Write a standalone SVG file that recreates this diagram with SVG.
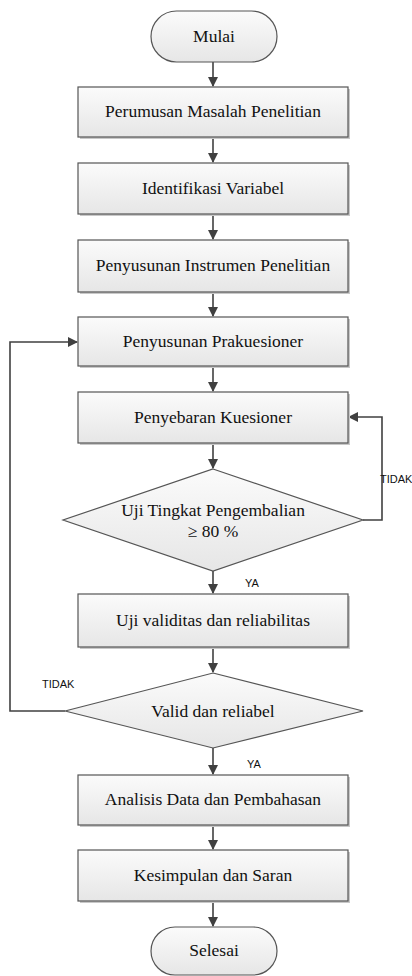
<svg xmlns="http://www.w3.org/2000/svg" width="412" height="976" viewBox="0 0 412 976">
<style>
.box{fill:url(#g);stroke:#555;stroke-width:1.2}
.sh{fill:#c8c8c8}
.t{font-family:'Liberation Serif','Times New Roman',Times,serif;font-size:17.5px;fill:#111;text-anchor:middle}
.l{font-family:'Liberation Sans',Arial,sans-serif;font-size:11px;fill:#111}
.c{fill:none;stroke:#404040;stroke-width:1.6}
</style>
<defs>
<linearGradient id="g" x1="0" y1="0" x2="0" y2="1">
<stop offset="0" stop-color="#fbfbfb"/>
<stop offset="1" stop-color="#e6e6e6"/>
</linearGradient>
<marker id="a" markerWidth="10" markerHeight="10" refX="9" refY="5" orient="auto" markerUnits="userSpaceOnUse">
<path d="M0,0 L10,5 L0,10 Z" fill="#404040"/>
</marker>
</defs>
<g id="connectors">
<path class="c" d="M213,62 V86" marker-end="url(#a)"/>
<path class="c" d="M213,137 V162" marker-end="url(#a)"/>
<path class="c" d="M213,214 V239" marker-end="url(#a)"/>
<path class="c" d="M213,292 V316" marker-end="url(#a)"/>
<path class="c" d="M213,366 V391" marker-end="url(#a)"/>
<path class="c" d="M213,443 V468" marker-end="url(#a)"/>
<path class="c" d="M213,571 V593" marker-end="url(#a)"/>
<path class="c" d="M363,520 H382 V417 H349" marker-end="url(#a)"/>
<path class="c" d="M213,647 V672" marker-end="url(#a)"/>
<path class="c" d="M65,711 H10 V342 H77" marker-end="url(#a)"/>
<path class="c" d="M213,748 V774" marker-end="url(#a)"/>
<path class="c" d="M213,825 V849" marker-end="url(#a)"/>
<path class="c" d="M213,901 V926" marker-end="url(#a)"/>
<text class="l" x="380" y="483">TIDAK</text>
<text class="l" x="245" y="587">YA</text>
<text class="l" x="42" y="688">TIDAK</text>
<text class="l" x="247" y="768">YA</text>
</g>
<g id="mulai">
<rect class="box" x="151" y="11" width="126" height="51" rx="25.5"/>
<text class="t" x="214" y="42">Mulai</text>
</g>
<g id="perumusan">
<rect class="sh" x="80" y="89" width="270" height="50"/>
<rect class="box" x="78" y="87" width="270" height="50"/>
<text class="t" x="213" y="117">Perumusan Masalah Penelitian</text>
</g>
<g id="identifikasi">
<rect class="sh" x="80" y="165" width="270" height="51"/>
<rect class="box" x="78" y="163" width="270" height="51"/>
<text class="t" x="213" y="194">Identifikasi Variabel</text>
</g>
<g id="instrumen">
<rect class="sh" x="80" y="242" width="270" height="52"/>
<rect class="box" x="78" y="240" width="270" height="52"/>
<text class="t" x="213" y="271">Penyusunan Instrumen Penelitian</text>
</g>
<g id="prakuesioner">
<rect class="sh" x="80" y="319" width="270" height="49"/>
<rect class="box" x="78" y="317" width="270" height="49"/>
<text class="t" x="213" y="347">Penyusunan Prakuesioner</text>
</g>
<g id="penyebaran">
<rect class="sh" x="80" y="394" width="270" height="51"/>
<rect class="box" x="78" y="392" width="270" height="51"/>
<text class="t" x="213" y="423">Penyebaran Kuesioner</text>
</g>
<g id="uji-tingkat">
<polygon class="box" points="213,469 363,520 213,571 63,520"/>
<text class="t" x="213" y="516">Uji Tingkat Pengembalian</text>
<text class="t" x="213" y="537">≥ 80 %</text>
</g>
<g id="uji-validitas">
<rect class="sh" x="80" y="596" width="270" height="53"/>
<rect class="box" x="78" y="594" width="270" height="53"/>
<text class="t" x="213" y="626">Uji validitas dan reliabilitas</text>
</g>
<g id="valid">
<polygon class="box" points="213,673 363,711 213,748 65,711"/>
<text class="t" x="213" y="717">Valid dan reliabel</text>
</g>
<g id="analisis">
<rect class="sh" x="80" y="777" width="270" height="50"/>
<rect class="box" x="78" y="775" width="270" height="50"/>
<text class="t" x="213" y="805">Analisis Data dan Pembahasan</text>
</g>
<g id="kesimpulan">
<rect class="sh" x="80" y="852" width="270" height="51"/>
<rect class="box" x="78" y="850" width="270" height="51"/>
<text class="t" x="213" y="881">Kesimpulan dan Saran</text>
</g>
<g id="selesai">
<rect class="box" x="151" y="927" width="126" height="48" rx="24"/>
<text class="t" x="214" y="956">Selesai</text>
</g>
</svg>
